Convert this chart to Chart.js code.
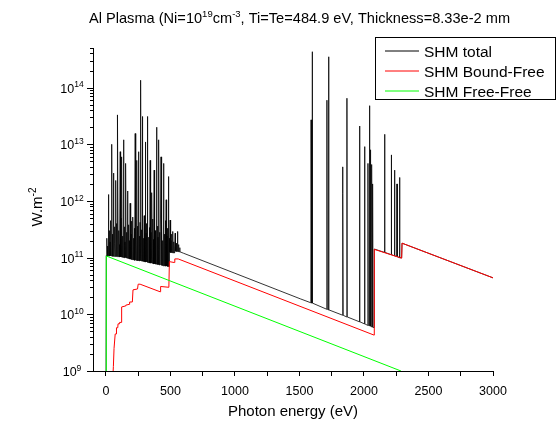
<!DOCTYPE html>
<html>
<head>
<meta charset="utf-8">
<script src="https://cdn.jsdelivr.net/npm/chart.js@4/dist/chart.umd.min.js"></script>
<style>
  html, body { margin: 0; padding: 0; background: #fff; }
  #wrap { width: 557px; height: 421px; }
</style>
</head>
<body>
<div id="wrap"><canvas id="chart" width="557" height="421"></canvas></div>
<script>
// continuum of the total spectrum (photon energy in eV, W.m-2)
const totalE = [0, 3, 50, 100, 200, 300, 420, 490, 494, 530, 533, 600, 1000, 1506, 2010, 2078, 2080, 2292, 2295, 3000];
const totalW = [1e8, 1.1e11, 1.07e11, 1.04e11, 9.2e10, 8.5e10, 7.4e10, 7.0e10, 1.24e11, 1.21e11, 1.3e11, 1.2e11,
                5.3e10, 1.88e10, 6.7e9, 5.85e9, 1.42e11, 9.9e10, 1.8e11, 4.4e10];

// emission lines on top of the total continuum
const lineE = [8, 13, 20, 27, 33, 38, 46, 52, 59, 66, 70, 77, 84, 88, 93, 100, 104, 111, 117, 124,
               130, 137, 144, 148, 155, 161, 168, 175, 181, 188, 196, 201, 209, 215, 220, 227, 233, 240, 246, 253,
               260, 265, 271, 278, 284, 291, 297, 305, 312, 317, 323, 331, 336, 343, 350, 357, 364, 368, 374, 381,
               386, 393, 400, 404, 411, 418, 427, 434, 440, 447, 454, 460, 467, 474, 479, 485, 491, 498, 505, 512,
               519, 527, 537, 546, 555, 563, 572,
               1590, 1596, 1599, 1713, 1726, 1834, 1837, 1868, 1966, 2005, 2031, 2043, 2050, 2057, 2062, 2068,
               2160, 2212, 2237, 2256, 2276];
const linePeak = [2.2e11, 1.6e11, 1.3e12, 3.0e11, 1.9e11, 4.5e11, 1.0e13, 2.6e11, 3.1e12, 3.5e11, 1.8e11, 2.3e12, 4.0e11, 2.2e11, 3.3e13, 3.0e11, 1.7e11, 7.4e12, 5.0e11, 6.0e12,
                  2.4e11, 1.2e13, 3.5e11, 1.9e11, 4.6e12, 2.8e11, 1.5e12, 3.8e11, 2.0e11, 9.1e11, 2.6e11, 4.4e11, 5.2e11, 2.2e11, 3.3e11, 1.55e13, 2.9e11, 5.2e12, 3.6e11, 7.4e12,
                  2.4e11, 4.2e11, 1.35e14, 3.1e11, 3.1e13, 2.2e11, 5.5e11, 1.1e13, 2.7e11, 4.0e11, 3.1e13, 2.3e11, 3.4e11, 5.2e12, 2.8e11, 1.4e12, 4.8e11, 2.1e11, 3.5e12, 3.0e11,
                  1.9e11, 2.0e13, 3.6e11, 2.3e11, 1.2e13, 2.8e11, 6.0e12, 3.9e11, 2.0e11, 4.6e12, 2.6e11, 4.5e11, 1.05e12, 2.4e11, 3.3e11, 2.7e12, 2.2e11, 4.6e11, 2.0e11, 2.6e11,
                  2.9e11, 1.9e11, 2.7e11, 1.8e11, 2.9e11, 1.7e11, 1.5e11,
                  2.7e13, 5.8e12, 4.3e14, 6.0e13, 3.5e14, 4.0e12, 1.35e12, 6.5e13, 2.1e13, 9.1e12, 4.6e12, 4.8e13, 8.0e12, 4.4e12, 3.8e12, 2.0e12,
                  1.5e13, 6.5e12, 3.5e12, 2.0e12, 2.6e12];
const lineBase = [1.08e11, 1.08e11, 1.08e11, 1.07e11, 1.07e11, 1.07e11, 1.07e11, 1.06e11, 1.06e11, 1.06e11, 1.05e11, 1.05e11, 1.05e11, 1.04e11, 1.04e11, 1.04e11, 1.03e11, 1.03e11, 1.03e11, 1.02e11,
                  1.02e11, 1.01e11, 1.0e11, 1.0e11, 1.0e11, 9.9e10, 9.8e10, 9.7e10, 9.6e10, 9.5e10, 9.4e10, 9.3e10, 9.2e10, 9.2e10, 9.1e10, 9.0e10, 9.0e10, 8.9e10, 8.9e10, 8.9e10,
                  8.8e10, 8.8e10, 8.8e10, 8.7e10, 8.7e10, 8.6e10, 8.6e10, 8.5e10, 8.4e10, 8.4e10, 8.3e10, 8.2e10, 8.2e10, 8.1e10, 8.0e10, 8.0e10, 7.9e10, 7.9e10, 7.8e10, 7.8e10,
                  7.7e10, 7.7e10, 7.6e10, 7.6e10, 7.5e10, 7.4e10, 7.4e10, 7.3e10, 7.3e10, 7.2e10, 7.2e10, 7.1e10, 7.1e10, 7.1e10, 7.0e10, 7.0e10, 7.0e10, 1.24e11, 1.23e11, 1.22e11,
                  1.22e11, 1.21e11, 1.3e11, 1.29e11, 1.29e11, 1.28e11, 1.27e11,
                  1.6e10, 1.6e10, 1.58e10, 1.23e10, 1.2e10, 9.7e9, 9.6e9, 9.0e9, 7.4e9, 6.8e9, 6.4e9, 6.3e9, 6.2e9, 6.1e9, 6.0e9, 5.9e9,
                  1.24e11, 1.13e11, 1.08e11, 1.04e11, 1.0e11];

// bound-free contribution
const boundE = [54, 58, 62, 63, 70, 72, 80, 82, 92, 94, 104, 106, 118, 122, 150, 154, 180, 184, 205, 210,
                245, 250, 265, 420, 424, 488, 492, 530, 534, 560, 2078, 2080, 2292, 2295, 3000];
const boundW = [8e8, 1.2e9, 1.2e9, 2.5e9, 2.5e9, 4.5e9, 4.5e9, 5.8e9, 5.8e9, 6.8e9, 6.8e9, 7.2e9, 7.2e9, 1.35e10, 1.4e10, 1.45e10, 1.5e10, 1.65e10, 1.65e10, 2.7e10,
                2.8e10, 3.4e10, 3.4e10, 2.5e10, 3.1e10, 3.0e10, 8.5e10, 8.2e10, 9.5e10, 9.5e10, 4.3e9, 1.4e11, 9.8e10, 1.8e11, 4.4e10];

// free-free contribution
const freeE = [2, 3, 2287];
const freeW = [5e8, 1.07e11, 1e9];

const seriesNames = ['SHM total', 'SHM Bound-Free', 'SHM Free-Free'];
const seriesColors = ['#000000', '#ff0000', '#00ff00'];
const xLabelValues = [0, 500, 1000, 1500, 2000, 2500, 3000];
const yTickExps = [9, 10, 11, 12, 13, 14];

const FONT = '"Liberation Sans", Arial, sans-serif';

function toPoints(xs, ys) {
    return xs.map((x, i) => ({ x: x, y: ys[i] }));
}

function totalSpectrum() {
    const pts = toPoints(totalE, totalW);
    lineE.forEach((e, i) => {
        pts.push({ x: e - 2, y: lineBase[i] }, { x: e, y: linePeak[i] }, { x: e + 2, y: lineBase[i] });
    });
    return pts.sort((a, b) => a.x - b.x);
}

// text with superscripts: parts = [{t, sup}]
function drawRich(ctx, parts, x, y, size, supSize, align) {
    let w = 0;
    parts.forEach(p => {
        ctx.font = (p.sup ? supSize : size) + 'px ' + FONT;
        p.w = ctx.measureText(p.t).width;
        w += p.w;
    });
    let cx = align === 'center' ? x - w / 2 : x;
    ctx.textAlign = 'left';
    ctx.textBaseline = 'alphabetic';
    parts.forEach(p => {
        ctx.font = (p.sup ? supSize : size) + 'px ' + FONT;
        ctx.fillText(p.t, cx, p.sup ? y - size * 0.42 : y);
        cx += p.w;
    });
}

const decor = {
    id: 'decor',
    afterDraw(chart) {
        const ctx = chart.ctx;
        const ys = chart.scales.y;
        const left = chart.chartArea.left;
        ctx.save();
        ctx.fillStyle = '#000';
        ctx.strokeStyle = '#000';
        ctx.lineWidth = 1;

        // y axis ticks (outward)
        for (let e = yTickExps[0]; e <= yTickExps[yTickExps.length - 1]; e++) {
            for (let m = 1; m < 10; m++) {
                const v = m * Math.pow(10, e);
                if (v > ys.max * 1.0001) break;
                const py = Math.round(ys.getPixelForValue(v)) + 0.5;
                const len = m === 1 ? 6 : 3;
                ctx.beginPath();
                ctx.moveTo(left - len, py);
                ctx.lineTo(left, py);
                ctx.stroke();
            }
        }
        // y tick labels
        yTickExps.forEach(e => {
            const py = ys.getPixelForValue(Math.pow(10, e));
            drawRich(ctx, [{ t: '10' }, { t: String(e), sup: true }], 72, py + 5, 12.5, 8.5, 'center');
        });

        // title
        drawRich(ctx, [
            { t: 'Al Plasma (Ni=10' }, { t: '19', sup: true }, { t: 'cm' }, { t: '-3', sup: true },
            { t: ', Ti=Te=484.9 eV, Thickness=8.33e-2 mm' }
        ], 299.5, 23, 14.6, 9.5, 'center');

        // x axis title
        drawRich(ctx, [{ t: 'Photon energy (eV)' }], 293, 416, 15, 10, 'center');

        // y axis title
        ctx.save();
        ctx.translate(42, 207);
        ctx.rotate(-Math.PI / 2);
        drawRich(ctx, [{ t: 'W.m' }, { t: '-2', sup: true }], 0, 0, 15, 10, 'center');
        ctx.restore();

        // legend box
        ctx.lineWidth = 1;
        ctx.strokeStyle = '#000';
        ctx.strokeRect(375.5, 37.5, 180, 62);
        const rows = [51, 71, 91];
        seriesNames.forEach((name, i) => {
            ctx.fillStyle = '#000';
            ctx.font = '15.5px ' + FONT;
            ctx.textAlign = 'left';
            ctx.textBaseline = 'alphabetic';
            ctx.fillText(name, 424, rows[i] + 6);
        });
        seriesNames.forEach((name, i) => {
            ctx.beginPath();
            ctx.strokeStyle = seriesColors[i];
            ctx.lineWidth = 1;
            ctx.moveTo(385, rows[i]);
            ctx.lineTo(419, rows[i]);
            ctx.stroke();
        });
        ctx.restore();
    }
};

const ctx = document.getElementById('chart').getContext('2d');

const chart = new Chart(ctx, {
    type: 'line',
    data: {
        datasets: [
            {
                label: seriesNames[0],
                data: totalSpectrum(),
                borderColor: seriesColors[0],
                borderWidth: 0.8,
                order: 3
            },
            {
                label: seriesNames[1],
                data: toPoints(boundE, boundW),
                borderColor: seriesColors[1],
                borderWidth: 1,
                order: 2
            },
            {
                label: seriesNames[2],
                data: toPoints(freeE, freeW),
                borderColor: seriesColors[2],
                borderWidth: 1,
                order: 1
            }
        ]
    },
    options: {
        responsive: false,
        animation: false,
        devicePixelRatio: 1,
        elements: { point: { radius: 0 }, line: { tension: 0 } },
        layout: { padding: { left: 0, right: 64, top: 48, bottom: 0 } },
        plugins: {
            legend: { display: false },
            tooltip: { enabled: false },
            title: { display: false }
        },
        scales: {
            x: {
                type: 'linear',
                min: -100,
                max: 3000,
                afterFit: s => { s.height = 50; },
                border: { display: true, color: '#000', width: 1 },
                grid: { display: true, drawOnChartArea: false, drawTicks: true, tickLength: 5, tickColor: '#000' },
                ticks: {
                    stepSize: 250,
                    includeBounds: false,
                    autoSkip: false,
                    maxRotation: 0,
                    padding: 8,
                    color: '#000',
                    font: { family: FONT, size: 12.5 },
                    callback: v => xLabelValues.includes(v) ? String(v) : ''
                }
            },
            y: {
                type: 'logarithmic',
                min: 1e9,
                max: 5e14,
                afterFit: s => { s.width = 93; },
                border: { display: true, color: '#000', width: 1 },
                grid: { display: false },
                ticks: { display: false }
            }
        }
    },
    plugins: [decor]
});
</script>
</body>
</html>
